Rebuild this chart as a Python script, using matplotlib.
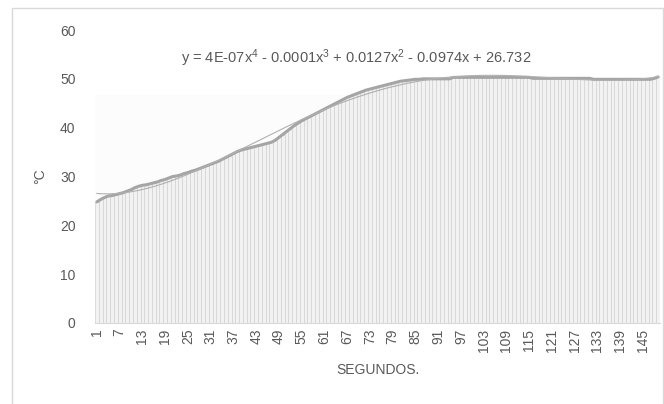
import matplotlib.pyplot as plt
import numpy as np
from matplotlib.patches import Rectangle

plt.rcParams['font.family'] = ['Liberation Sans', 'DejaVu Sans']
plt.rcParams['mathtext.default'] = 'regular'

# temperature readings, one per second (1..149)
temps = [24.8, 25.3, 25.7, 26.0, 26.1, 26.3, 26.5, 26.7, 27.0, 27.3,
         27.7, 28.0, 28.2, 28.3, 28.5, 28.7, 28.9, 29.2, 29.4, 29.7,
         30.0, 30.1, 30.3, 30.6, 30.8, 31.1, 31.3, 31.6, 31.9, 32.2,
         32.5, 32.8, 33.1, 33.5, 33.9, 34.3, 34.7, 35.1, 35.4, 35.6,
         35.8, 36.0, 36.2, 36.4, 36.6, 36.8, 37.0, 37.4, 38.0, 38.6,
         39.2, 39.8, 40.4, 40.9, 41.4, 41.8, 42.2, 42.6, 43.0, 43.4,
         43.8, 44.2, 44.6, 45.0, 45.4, 45.8, 46.2, 46.5, 46.8, 47.1,
         47.4, 47.7, 47.9, 48.1, 48.3, 48.5, 48.7, 48.9, 49.1, 49.3,
         49.5, 49.6, 49.7, 49.8, 49.9, 49.9, 50.0, 50.0, 50.0, 50.0,
         50.0, 50.0, 50.0, 50.0, 50.3, 50.3, 50.3, 50.3, 50.3, 50.3,
         50.3, 50.3, 50.3, 50.3, 50.3, 50.3, 50.3, 50.3, 50.3, 50.3,
         50.3, 50.3, 50.3, 50.3, 50.3, 50.1, 50.1, 50.1, 50.1, 50.1,
         50.1, 50.1, 50.1, 50.1, 50.1, 50.1, 50.1, 50.1, 50.1, 50.1,
         50.1, 49.9, 49.9, 49.9, 49.9, 49.9, 49.9, 49.9, 49.9, 49.9,
         49.9, 49.9, 49.9, 49.9, 49.9, 49.9, 49.9, 50.1, 50.4]
seconds = np.arange(1, len(temps) + 1)
tick_labels = [str(s) for s in seconds[::6]]
equation = 'y = 4E-07x$^4$ - 0.0001x$^3$ + 0.0127x$^2$ - 0.0974x + 26.732'

txt = '#595959'

fig = plt.figure(figsize=(6.64, 4.04), dpi=100)
fig.patches.append(Rectangle((12 / 664, -0.01), 651 / 664, 1 - 8 / 404 + 0.01,
                             transform=fig.transFigure, fill=False,
                             edgecolor='#d9d9d9', linewidth=1))
ax = fig.add_axes([95 / 664, 1 - 323 / 404, 565 / 664, 293 / 404])

ax.axhspan(0, 46.7, color='#fcfcfc', zorder=0)
ax.bar(seconds, temps, width=1.0, color='#f2f2f2', edgecolor='#d6d6d6',
       linewidth=0.6, zorder=1)
ax.plot(seconds, temps, color='#a5a5a5', linewidth=2.2, zorder=3,
        solid_capstyle='round')

# 4th-degree polynomial trendline
coef = np.polyfit(seconds, temps, 4)
ax.plot(seconds, np.polyval(coef, seconds), color='#b0b0b0', linewidth=0.8,
        zorder=4)

ax.set_xlim(0.5, len(temps) + 0.5)
ax.set_ylim(0, 60)
ax.set_yticks(range(0, 61, 10))
ax.set_xticks(seconds[::6])
ax.set_xticklabels(tick_labels, rotation=90)
ax.tick_params(axis='both', length=0, colors=txt, labelsize=10)
ax.tick_params(axis='x', pad=4)
ax.tick_params(axis='y', pad=14)

for s in ['top', 'right', 'left']:
    ax.spines[s].set_visible(False)
ax.spines['bottom'].set_color('#d9d9d9')

ax.text(0.462, 0.905, equation, transform=ax.transAxes, ha='center',
        va='center', color=txt, fontsize=10.5)

ax.set_xlabel('SEGUNDOS.', color=txt, fontsize=10, labelpad=8)
ax.set_ylabel('°C', color=txt, fontsize=10, labelpad=9)

fig.savefig('out.png', dpi=100)
